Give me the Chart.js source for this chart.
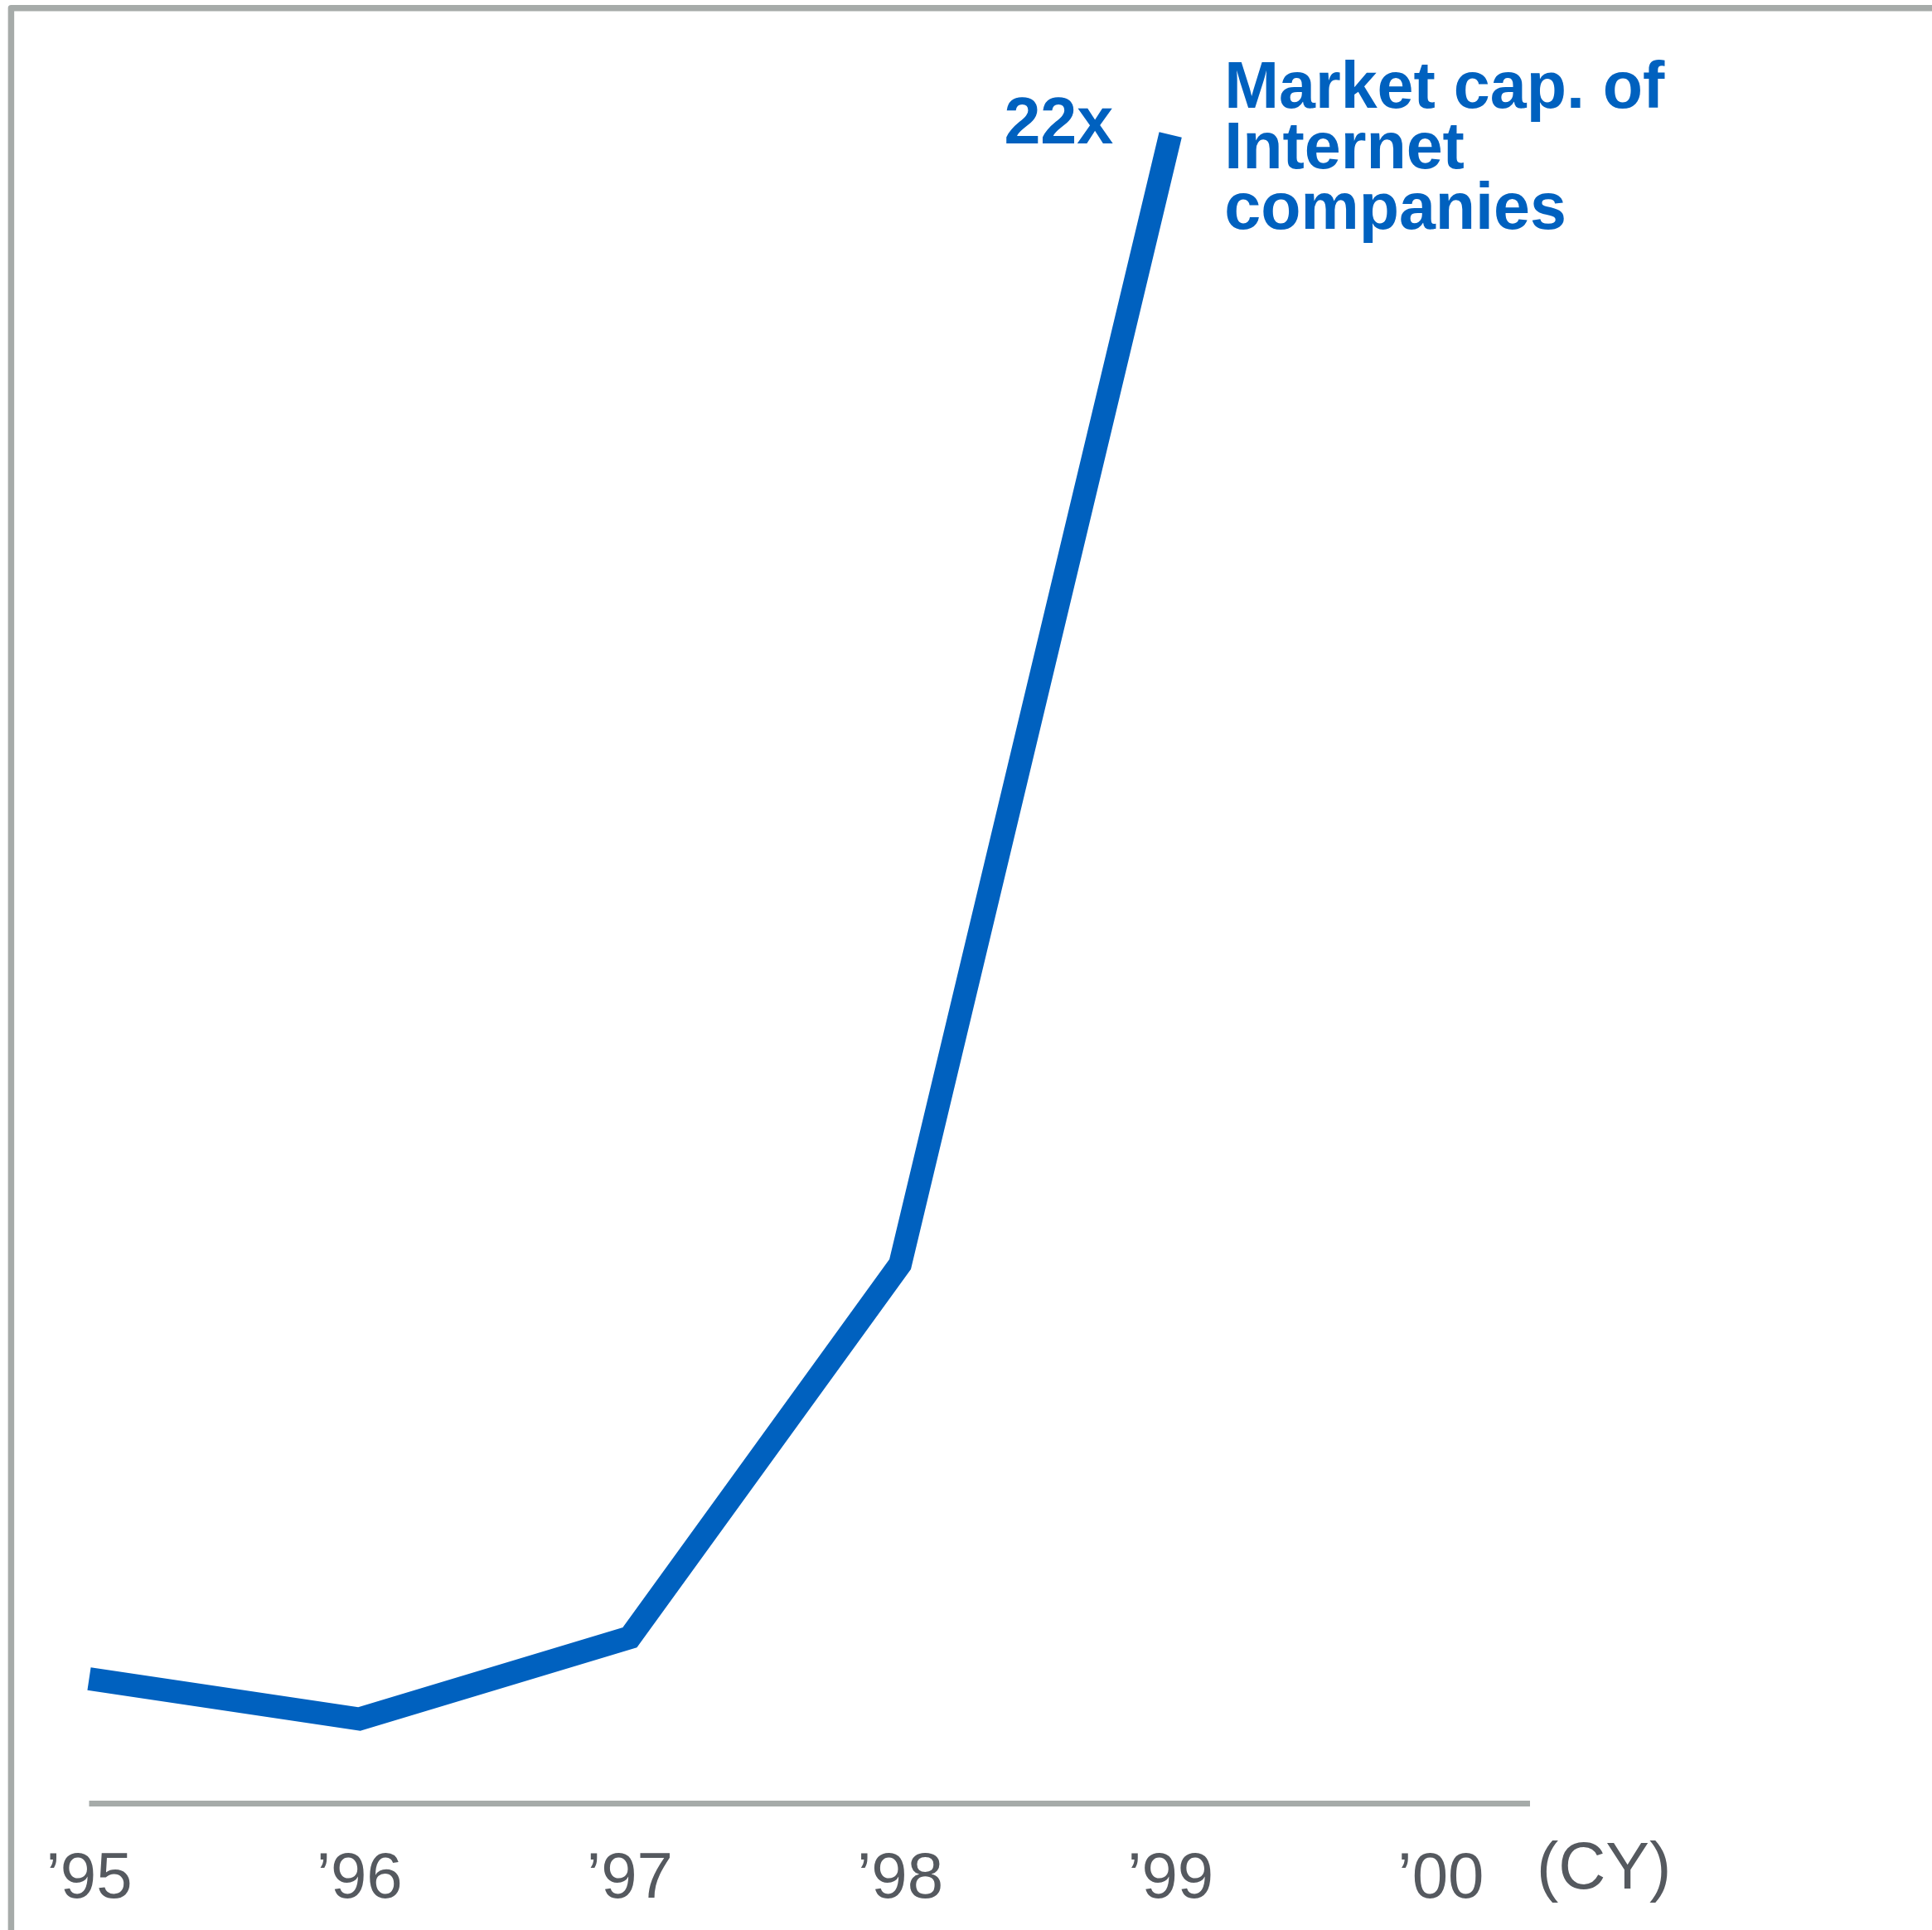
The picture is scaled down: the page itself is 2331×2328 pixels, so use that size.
<!DOCTYPE html>
<html>
<head>
<meta charset="utf-8">
<script src="https://cdn.jsdelivr.net/npm/chart.js@4.4.1/dist/chart.umd.min.js"></script>
<style>
  html, body { margin: 0; padding: 0; background: #fff; }
  canvas { display: block; }
</style>
</head>
<body>
<canvas id="chart" width="2331" height="2328"></canvas>
<script>
// x position of each year (category index), market cap index
const years = [0, 1, 2, 3, 4];
const marketCap = [1.645, 1.115, 2.19, 7.11, 22];
const tickLabels = ['\u201995', '\u201996', '\u201997', '\u201998', '\u201999', '\u201900'];
const unitLabel = '(CY)';
const peakLabel = '22x';
const seriesLabel = ['Market cap. of', 'Internet', 'companies'];

const BLUE = '#0061bf';
const GRAY = '#a6aba9';
const TEXT = '#55595f';
const FONT = '"Liberation Sans", Arial, sans-serif';
const X_MAX = 5.33;

const decor = {
    id: 'decor',
    beforeDatasetsDraw(chart) {
        const { ctx, scales: { x, y } } = chart;
        ctx.save();
        // frame on top and left
        ctx.strokeStyle = GRAY;
        ctx.lineWidth = 7.5;
        ctx.lineJoin = 'round';
        ctx.beginPath();
        ctx.moveTo(13.4, chart.height + 10);
        ctx.lineTo(13.4, 9.7);
        ctx.lineTo(chart.width + 10, 9.7);
        ctx.stroke();

        // baseline axis
        const y0 = y.getPixelForValue(0);
        ctx.lineWidth = 7;
        ctx.lineCap = 'butt';
        ctx.beginPath();
        ctx.moveTo(x.getPixelForValue(0), y0);
        ctx.lineTo(x.getPixelForValue(X_MAX), y0);
        ctx.stroke();

        // tick labels
        ctx.fillStyle = TEXT;
        ctx.font = '78px ' + FONT;
        ctx.textAlign = 'center';
        ctx.textBaseline = 'alphabetic';
        tickLabels.forEach((t, i) => ctx.fillText(t, x.getPixelForValue(i), y0 + 113));
        ctx.font = '79px ' + FONT;
        ctx.textAlign = 'left';
        ctx.fillText(unitLabel, x.getPixelForValue(X_MAX) + 8, y0 + 102);
        ctx.restore();
    },
    afterDatasetsDraw(chart) {
        const { ctx, scales: { x, y } } = chart;
        const px = x.getPixelForValue(4);
        const py = y.getPixelForValue(22);
        ctx.save();
        ctx.fillStyle = BLUE;
        ctx.font = 'bold 79px ' + FONT;
        ctx.textBaseline = 'alphabetic';
        ctx.textAlign = 'right';
        ctx.fillText(peakLabel, px - 69, py + 10.5);
        ctx.textAlign = 'left';
        seriesLabel.forEach((t, i) => ctx.fillText(t, px + 65, py - 32.5 + i * 73));
        ctx.restore();
    }
};

new Chart(document.getElementById('chart'), {
    type: 'line',
    data: {
        datasets: [{
            data: years.map((v, i) => ({ x: v, y: marketCap[i] })),
            borderColor: BLUE,
            borderWidth: 28,
            borderCapStyle: 'butt',
            borderJoinStyle: 'miter',
            pointRadius: 0,
            tension: 0,
            fill: false,
            clip: false
        }]
    },
    options: {
        responsive: false,
        animation: false,
        layout: { padding: { left: 107.5, right: 485, top: 162.5, bottom: 152.5 } },
        plugins: { legend: { display: false }, tooltip: { enabled: false } },
        scales: {
            x: { type: 'linear', min: 0, max: X_MAX, display: false },
            y: { type: 'linear', min: 0, max: 22, display: false }
        }
    },
    plugins: [decor]
});
</script>
</body>
</html>
